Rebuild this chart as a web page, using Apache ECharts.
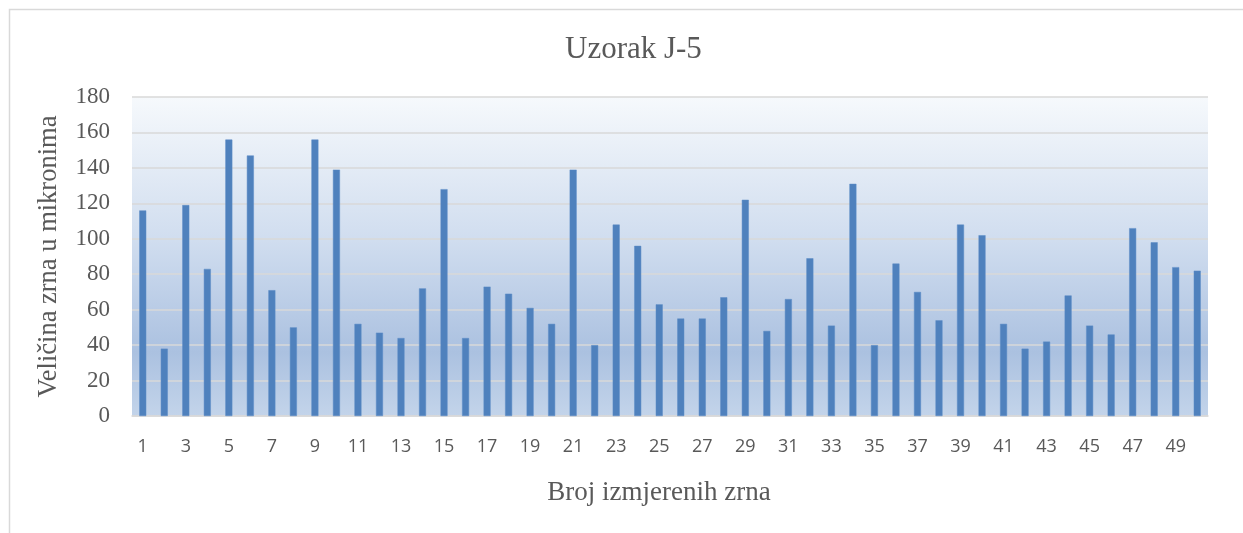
<!DOCTYPE html>
<html>
<head>
<meta charset="utf-8">
<script src="https://cdn.jsdelivr.net/npm/echarts@6/dist/echarts.min.js"></script>
<style>
html,body{margin:0;padding:0;background:#fff;}
#c{width:1243px;height:533px;}
</style>
</head>
<body>
<div id="c"></div>
<script>
const titleText = 'Uzorak J-5';
const xAxisName = 'Broj izmjerenih zrna';
const yAxisName = 'Veličina zrna u mikronima';
const categories = [];
for (let i = 1; i <= 50; i++) categories.push(String(i));
const values = [116, 38, 119, 83, 156, 147, 71, 50, 156, 139,
                52, 47, 44, 72, 128, 44, 73, 69, 61, 52,
                139, 40, 108, 96, 63, 55, 55, 67, 122, 48,
                66, 89, 51, 131, 40, 86, 70, 54, 108, 102,
                52, 38, 42, 68, 51, 46, 106, 98, 84, 82];
const yMin = 0, yMax = 180, yStep = 20;

const chart = echarts.init(document.getElementById('c'), null, {renderer: 'canvas'});
chart.setOption({
  animation: false,
  backgroundColor: '#ffffff',
  graphic: [{
    type: 'rect', z: -10, silent: true,
    shape: {x: 9.5, y: 9.5, width: 1300, height: 600},
    style: {fill: 'none', stroke: '#d9d9d9', lineWidth: 1.5}
  }],
  title: {
    text: titleText, left: 565, top: 34, padding: 0,
    textStyle: {fontFamily: 'Liberation Serif', fontSize: 31, fontWeight: 'normal', color: '#595959'}
  },
  grid: {
    left: 132, right: 35, top: 97, bottom: 117, show: true, borderWidth: 0,
    backgroundColor: {
      type: 'linear', x: 0, y: 0, x2: 0, y2: 1,
      colorStops: [
        {offset: 0, color: '#f6f9fc'},
        {offset: 0.45, color: '#d0ddef'},
        {offset: 0.8, color: '#abc1e0'},
        {offset: 1, color: '#c3d4ea'}
      ]
    }
  },
  xAxis: {
    type: 'category', data: categories, boundaryGap: true,
    axisTick: {show: false},
    axisLine: {show: true, lineStyle: {color: '#d9d9d9', width: 1.5}},
    axisLabel: {interval: 1, fontFamily: 'Open Sans', fontSize: 18, color: '#595959', margin: 22},
    name: xAxisName, nameLocation: 'middle', nameGap: 63,
    nameTextStyle: {fontFamily: 'Liberation Serif', fontSize: 27, color: '#595959', padding: [0, 22, 0, 0]}
  },
  yAxis: {
    type: 'value', min: yMin, max: yMax, interval: yStep,
    axisLine: {show: false}, axisTick: {show: false},
    splitLine: {show: true, lineStyle: {color: '#d9d9d9', width: 1.5}},
    axisLabel: {fontFamily: 'Liberation Serif', fontSize: 23, color: '#595959', margin: 22},
    name: yAxisName, nameLocation: 'middle', nameGap: 69,
    nameTextStyle: {fontFamily: 'Liberation Serif', fontSize: 26.5, color: '#595959'}
  },
  series: [{
    type: 'bar', data: values, barWidth: 7,
    itemStyle: {color: '#4f81bd', borderColor: '#5d8cc6', borderWidth: 0.5}
  }]
});
</script>
</body>
</html>
